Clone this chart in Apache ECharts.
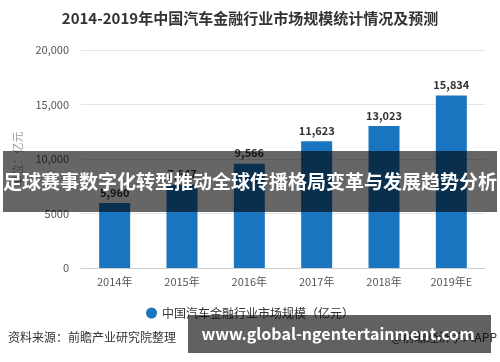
<!DOCTYPE html>
<html><head><meta charset="utf-8">
<script src="https://cdn.jsdelivr.net/npm/echarts@6/dist/echarts.min.js"></script>
<style>html,body{margin:0;padding:0;background:#fff}#c{width:500px;height:362px}</style>
</head><body><div id="c"></div>
<script>
var categories = ['2014年','2015年','2016年','2017年','2018年','2019年E'];
var values = [5960, 7647, 9566, 11623, 13023, 15834];
var seriesName = '中国汽车金融行业市场规模（亿元）';
var yTicks = [0, 5000, 10000, 15000, 20000];
var titleText = '2014-2019年中国汽车金融行业市场规模统计情况及预测';
var bannerText = '足球赛事数字化转型推动全球传播格局变革与发展趋势分析';
var siteText = 'www.global-ngentertainment.com';
var sourceText = '资料来源：前瞻产业研究院整理';
var appText = '@前瞻经济学人APP';
var FONT = '"Noto Sans CJK SC", "Noto Sans", sans-serif';

function fmt(v){ return v >= 10000 ? v.toLocaleString('en-US') : String(v); }

var chart = echarts.init(document.getElementById('c'));
chart.setOption({
  backgroundColor: '#fff',
  animation: false,
  textStyle: { fontFamily: FONT },
  title: { text: titleText, left: 'center', top: 6,
    textStyle: { fontSize: 15, fontWeight: 'bold', color: '#333', fontFamily: FONT } },
  grid: { left: 81, right: 15, top: 50, bottom: 94 },
  legend: { data: [seriesName], left: 'center', top: 302, icon: 'circle', itemWidth: 11, itemHeight: 11,
    textStyle: { fontSize: 12, color: '#333', fontFamily: FONT } },
  xAxis: { type: 'category', data: categories,
    axisLine: { lineStyle: { color: '#ccc' } },
    axisTick: { alignWithLabel: true, lineStyle: { color: '#ccc' } },
    axisLabel: { color: '#555', fontSize: 11, margin: 8, fontFamily: FONT } },
  yAxis: { type: 'value', min: yTicks[0], max: yTicks[yTicks.length-1], interval: 5000,
    name: '单位：亿元', nameLocation: 'middle', nameGap: 58, nameRotate: 90,
    nameTextStyle: { color: '#999', fontSize: 11, fontFamily: FONT },
    axisLine: { show: false }, axisTick: { show: false },
    axisLabel: { color: '#555', fontSize: 11, margin: 12, formatter: fmt, fontFamily: FONT },
    splitLine: { lineStyle: { color: '#e3e3e3' } } },
  series: [{ name: seriesName, type: 'bar', data: values, barWidth: 31,
    itemStyle: { color: '#1a75c0' },
    label: { show: true, position: 'top', color: '#333', fontWeight: 'bold', fontSize: 11,
      formatter: function(p){ return p.value.toLocaleString('en-US'); } } }],
  graphic: [
    { type: 'text', left: 8, top: 331, z: 10,
      style: { text: sourceText, fill: '#333', font: '12px ' + FONT } },
    { type: 'text', right: 3, top: 331, z: 10,
      style: { text: appText, fill: '#333', font: '12px ' + FONT } },
    { type: 'rect', shape: { x: 3, y: 151, width: 494, height: 61 }, z: 100,
      style: { fill: 'rgba(0,0,0,0.6)' } },
    { type: 'text', x: 250, y: 182, z: 101,
      style: { text: bannerText, fill: '#fff', font: 'bold 19px ' + FONT, align: 'center', verticalAlign: 'middle' } },
    { type: 'rect', shape: { x: 188, y: 315, width: 303, height: 38 }, z: 100,
      style: { fill: 'rgba(0,0,0,0.62)' } },
    { type: 'text', x: 338, y: 334, z: 101,
      style: { text: siteText, fill: '#fff', font: 'bold 16px ' + FONT, align: 'center', verticalAlign: 'middle' } }
  ]
});
</script></body></html>
